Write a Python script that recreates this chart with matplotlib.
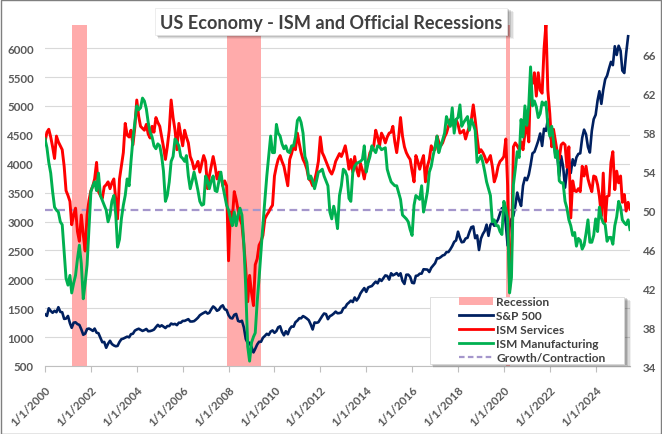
import matplotlib
matplotlib.use('Agg')
import matplotlib.pyplot as plt
from matplotlib.patches import Rectangle, Patch
from matplotlib.lines import Line2D
import pandas as pd

# ---------------- data (monthly, from Jan 2000) ----------------
spx_close = [
    1394.5, 1366.4, 1498.6, 1452.4, 1420.6, 1454.6, 1430.8, 1517.7, 1436.5, 1429.4, 1315.0, 1320.3,
    1366.0, 1239.9, 1160.3, 1249.5, 1255.8, 1224.4, 1211.2, 1133.6, 1040.9, 1059.8, 1139.5, 1148.1,
    1130.2, 1106.7, 1147.4, 1076.9, 1067.1, 989.8, 911.6, 916.1, 815.3, 885.8, 936.3, 879.8,
    855.7, 841.2, 848.2, 916.9, 963.6, 974.5, 990.3, 1008.0, 996.0, 1050.7, 1058.2, 1111.9,
    1131.1, 1144.9, 1126.2, 1107.3, 1120.7, 1140.8, 1101.7, 1104.2, 1114.6, 1130.2, 1173.8, 1211.9,
    1181.3, 1203.6, 1180.6, 1156.9, 1191.5, 1191.3, 1234.2, 1220.3, 1228.8, 1207.0, 1249.5, 1248.3,
    1280.1, 1280.7, 1294.8, 1310.6, 1270.1, 1270.2, 1276.7, 1303.8, 1335.9, 1377.9, 1400.6, 1418.3,
    1438.2, 1406.8, 1420.9, 1482.4, 1530.6, 1503.4, 1455.3, 1474.0, 1526.8, 1549.4, 1481.1, 1468.4,
    1378.6, 1330.6, 1322.7, 1385.6, 1400.4, 1280.0, 1267.4, 1282.8, 1166.4, 968.8, 896.2, 903.3,
    825.9, 735.1, 797.9, 872.8, 919.1, 919.3, 987.5, 1020.6, 1057.1, 1036.2, 1095.6, 1115.1,
    1073.9, 1104.5, 1169.4, 1186.7, 1089.4, 1030.7, 1101.6, 1049.3, 1141.2, 1183.3, 1180.6, 1257.6,
    1286.1, 1327.2, 1325.8, 1363.6, 1345.2, 1320.6, 1292.3, 1218.9, 1131.4, 1253.3, 1247.0, 1257.6,
    1312.4, 1365.7, 1408.5, 1397.9, 1310.3, 1362.2, 1379.3, 1406.6, 1440.7, 1412.2, 1416.2, 1426.2,
    1498.1, 1514.7, 1569.2, 1597.6, 1630.7, 1606.3, 1685.7, 1633.0, 1681.6, 1756.5, 1805.8, 1848.4,
    1782.6, 1859.5, 1872.3, 1884.0, 1923.6, 1960.2, 1930.7, 2003.4, 1972.3, 2018.1, 2067.6, 2058.9,
    1995.0, 2104.5, 2067.9, 2085.5, 2107.4, 2063.1, 2103.8, 1972.2, 1920.0, 2079.4, 2080.4, 2043.9,
    1940.2, 1932.2, 2059.7, 2065.3, 2097.0, 2098.9, 2173.6, 2171.0, 2168.3, 2126.2, 2198.8, 2238.8,
    2278.9, 2363.6, 2362.7, 2384.2, 2411.8, 2423.4, 2470.3, 2471.7, 2519.4, 2575.3, 2647.6, 2673.6,
    2823.8, 2713.8, 2640.9, 2648.1, 2705.3, 2718.4, 2816.3, 2901.5, 2914.0, 2711.7, 2760.2, 2506.9,
    2704.1, 2784.5, 2834.4, 2945.8, 2752.1, 2941.8, 2980.4, 2926.5, 2976.7, 3037.6, 3141.0, 3230.8,
    3225.5, 2954.2, 2584.6, 2912.4, 3044.3, 3100.3, 3271.1, 3500.3, 3363.0, 3270.0, 3621.6, 3756.1,
    3714.2, 3811.2, 3972.9, 4181.2, 4204.1, 4297.5, 4395.3, 4522.7, 4307.5, 4605.4, 4567.0, 4766.2,
    4515.6, 4373.9, 4530.4, 4131.9, 4132.2, 3785.4, 4130.3, 3955.0, 3585.6, 3872.0, 4080.1, 3839.5,
    4076.6, 3970.2, 4109.3, 4169.5, 4179.8, 4450.4, 4589.0, 4507.7, 4288.1, 4193.8, 4567.8, 4769.8,
    4845.7, 5096.3, 5254.4, 5035.7, 5277.5, 5460.5, 5522.3, 5648.4, 5762.5, 5705.5, 6032.4, 5881.6,
    6040.5, 5954.5, 5611.9, 5569.1, 5911.7, 6205.0,
]

ism_services = [
    57.0, 58.0, 58.3, 57.5, 56.5, 55.3, 57.6, 57.0, 56.6, 56.2, 54.5, 52.0,
    51.5, 50.9, 48.5, 49.5, 50.2, 47.8, 46.8, 49.5, 47.5, 45.8, 49.5, 51.0,
    52.0, 52.5, 53.2, 54.9, 51.9, 51.5, 51.2, 52.4, 52.6, 52.9, 52.2, 52.8,
    53.2, 51.0, 49.1, 53.2, 54.5, 55.9, 58.9, 57.7, 57.5, 58.2, 56.7, 58.5,
    61.3, 59.6, 58.6, 58.4, 58.2, 58.8, 57.8, 57.4, 58.6, 58.0, 59.5, 59.0,
    58.6, 57.5, 56.5, 55.2, 56.5, 58.2, 61.3, 59.5, 58.2, 56.2, 58.9, 57.8,
    56.6, 58.2, 57.5, 56.9, 55.5, 55.0, 54.2, 54.5, 55.0, 53.9, 54.8, 55.6,
    55.0, 52.2, 53.5, 54.5, 55.5, 54.5, 53.2, 53.9, 53.5, 52.5, 53.0, 52.5,
    44.8, 49.8, 49.1, 51.9, 51.1, 50.0, 49.1, 48.5, 46.4, 44.0, 40.6, 43.3,
    41.5, 40.2, 44.4, 45.0, 46.4, 46.8, 47.4, 49.1, 49.5, 49.8, 50.2, 50.5,
    53.5, 54.5, 55.2, 55.6, 55.0, 54.5, 53.5, 52.5, 55.2, 55.8, 56.6, 56.2,
    57.9, 56.8, 55.9, 55.2, 54.8, 54.2, 53.2, 53.0, 52.5, 53.0, 53.9, 55.0,
    57.5, 55.9, 55.5, 55.0, 54.5, 54.0, 53.7, 54.2, 55.0, 55.4, 55.8, 55.5,
    56.0, 56.6, 55.6, 54.2, 55.2, 53.9, 55.5, 54.2, 53.5, 54.8, 54.1, 53.2,
    54.5, 55.0, 55.9, 56.2, 56.6, 58.2, 57.5, 56.6, 57.9, 57.5, 56.9, 57.5,
    57.9, 58.0, 58.6, 57.0, 55.9, 57.5, 59.5, 57.6, 56.5, 55.9, 55.5, 55.2,
    54.0, 52.9, 55.6, 55.0, 54.2, 55.0, 55.6, 52.9, 54.5, 55.2, 56.6, 56.2,
    56.2, 57.6, 57.0, 56.6, 56.9, 57.5, 57.9, 58.6, 59.3, 59.0, 58.6, 59.3,
    58.8, 57.9, 58.0, 58.2, 57.3, 58.0, 58.6, 59.3, 60.8, 59.3, 57.5, 55.9,
    56.2, 55.9, 55.5, 54.9, 55.2, 55.6, 54.5, 52.9, 53.5, 54.5, 55.0, 55.2,
    55.5, 57.3, 52.5, 41.8, 45.4, 56.5, 56.9, 56.6, 56.2, 57.0, 56.2, 57.9,
    58.7, 57.0, 63.4, 63.0, 64.1, 61.7, 64.1, 62.3, 62.0, 66.5, 69.1, 62.3,
    59.9, 56.5, 58.3, 57.1, 55.9, 55.3, 56.7, 56.9, 56.7, 54.4, 56.5, 49.2,
    53.0, 52.0, 51.9, 52.2, 51.9, 54.5, 53.5, 54.5, 53.2, 52.5, 51.9, 53.5,
    53.4, 52.6, 51.4, 49.4, 53.8, 48.8, 51.4, 51.5, 54.9, 56.0, 52.1, 54.0,
    52.8, 53.5, 50.8, 51.6, 49.9, 50.8, 50.1,
]

ism_manufacturing = [
    57.3, 56.4, 54.9, 53.8, 51.9, 50.3, 50.0, 49.8, 48.8, 48.5, 45.7, 43.0,
    42.3, 43.3, 41.5, 42.5, 43.3, 45.0, 46.4, 44.5, 40.9, 42.5, 44.4, 48.0,
    51.9, 52.5, 52.9, 52.0, 53.8, 51.5, 51.0, 50.5, 50.0, 48.8, 49.5, 50.9,
    51.5, 49.5, 46.2, 47.0, 49.1, 50.5, 51.5, 53.2, 52.5, 55.0, 57.3, 59.0,
    60.7, 60.3, 60.5, 61.5, 61.2, 60.4, 59.0, 58.0, 57.5, 56.6, 56.3, 56.8,
    56.6, 55.5, 54.0, 50.9, 51.5, 52.9, 55.0, 55.5, 57.3, 57.0, 56.6, 55.5,
    55.3, 55.0, 55.6, 53.5, 52.2, 53.0, 53.9, 53.0, 52.0, 50.9, 50.5, 50.6,
    53.5, 53.0, 52.2, 53.0, 53.5, 52.0, 51.9, 53.0, 53.9, 52.5, 51.5, 50.5,
    50.0, 49.1, 48.4, 49.8, 48.4, 49.5, 50.2, 49.5, 46.5, 42.0, 36.0, 34.5,
    36.4, 37.0, 37.4, 40.6, 43.0, 45.8, 48.5, 51.0, 53.5, 55.5, 57.6, 55.9,
    55.9, 58.8, 57.9, 57.6, 56.8, 56.3, 56.6, 56.0, 55.9, 56.6, 56.6, 57.5,
    59.2, 59.5, 59.0, 57.9, 55.5, 54.9, 53.2, 53.5, 53.0, 52.2, 53.0, 53.9,
    54.0, 54.2, 53.5, 53.0, 52.5, 49.8, 49.1, 50.4, 49.5, 48.1, 51.5, 52.5,
    54.2, 54.0, 53.5, 51.2, 50.9, 53.9, 54.5, 54.8, 54.9, 55.0, 55.2, 56.6,
    53.9, 54.9, 55.5, 56.6, 56.2, 55.9, 56.6, 56.5, 56.2, 56.3, 56.4, 54.2,
    53.5, 52.9, 52.7, 52.5, 52.5, 51.8, 51.1, 49.5, 49.3, 49.1, 48.8, 48.0,
    47.4, 50.5, 51.5, 51.3, 51.1, 52.5, 49.8, 50.8, 51.9, 53.9, 54.5, 55.6,
    56.5, 57.6, 55.9, 56.6, 57.2, 57.9, 59.6, 59.0, 58.6, 60.5, 57.9, 59.3,
    59.5, 60.8, 58.6, 59.0, 59.3, 59.6, 58.2, 59.3, 58.8, 58.2, 54.9, 55.2,
    55.6, 54.9, 54.0, 52.9, 52.2, 51.5, 48.8, 49.0, 48.4, 48.4, 47.8, 47.5,
    50.9, 50.1, 49.1, 41.5, 43.1, 52.6, 54.2, 56.0, 55.4, 59.3, 57.5, 60.7,
    58.7, 60.8, 64.7, 60.7, 61.2, 60.6, 59.5, 59.9, 61.1, 60.8, 61.1, 58.7,
    57.6, 58.6, 57.1, 55.4, 56.1, 53.0, 52.8, 52.8, 50.9, 50.2, 49.0, 48.4,
    47.4, 47.7, 46.3, 47.1, 46.9, 46.0, 46.4, 47.6, 49.0, 46.7, 46.7, 47.4,
    49.1, 47.8, 50.3, 49.2, 48.7, 48.5, 46.8, 47.2, 47.2, 46.5, 48.4, 49.3,
    50.9, 50.3, 49.0, 48.7, 48.5, 49.0, 48.0,
]

growth_contraction_level = 50
recession_starts = ['2001-03-01', '2007-12-01', '2020-02-01']
recession_ends = ['2001-11-01', '2009-06-01', '2020-04-01']
tick_years = list(range(2000, 2025, 2))
title_text = 'US Economy - ISM and Official Recessions'
legend_labels = ['Recession', 'S&P 500', 'ISM Services', 'ISM Manufacturing', 'Growth/Contraction']

# ---------------- figure ----------------
W, H = 662, 435
plt.rcParams['font.family'] = ['Lato', 'DejaVu Sans']

dates_ism = pd.date_range('2000-01-01', periods=len(ism_manufacturing), freq='MS')
dates_spx = dates_ism[:len(spx_close)]

fig = plt.figure(figsize=(W / 100, H / 100), dpi=100)
fig.patch.set_facecolor('white')

def fx(px):
    return px / W

def fy(py):
    return 1 - py / H

L, R, T, B = 45, 630, 26, 367
ax = fig.add_axes([fx(L), fy(B), fx(R) - fx(L), fy(T) - fy(B)])
ax2 = ax.twinx()

NAVY = '#002060'
RED = '#FF0000'
GREEN = '#00B050'
PINK = '#FFABAB'
LAV = '#A597CC'
TXT = '#404040'

# recession shading
for s, e in zip(recession_starts, recession_ends):
    ax.axvspan(pd.Timestamp(s), pd.Timestamp(e), color=PINK, lw=0, zorder=1)

ax.plot(dates_spx, spx_close, color=NAVY, lw=1.9, zorder=3, solid_joinstyle='round')

ax2.axhline(growth_contraction_level, color=LAV, lw=1.6, dashes=(3.5, 2.0), zorder=1)
ax2.plot(dates_ism, ism_services, color=RED, lw=2.1, zorder=2, solid_joinstyle='round')
ax2.plot(dates_ism, ism_manufacturing, color=GREEN, lw=2.1, zorder=3, solid_joinstyle='round')

ax.set_xlim(pd.Timestamp('2000-01-01'), pd.Timestamp('2025-07-01'))
ax.set_ylim(500, 6400)
ax2.set_ylim(34, 69)
ax.set_yticks(range(500, 6001, 500))
ax2.set_yticks(range(34, 67, 4))

ax.set_axisbelow(True)
ax.yaxis.grid(True, color='#D9D9D9', lw=0.8)
ax.xaxis.grid(False)

for a in (ax, ax2):
    for sp in ('top', 'left', 'right'):
        a.spines[sp].set_visible(False)
ax2.spines['bottom'].set_visible(False)
ax.spines['bottom'].set_color('#BFBFBF')
ax.spines['bottom'].set_linewidth(0.8)

ticks = [pd.Timestamp(f'{y}-01-01') for y in tick_years]
ax.set_xticks(ticks)
ax.set_xticklabels([f'1/1/{y}' for y in tick_years], rotation=45, ha='right',
                   va='top', rotation_mode='anchor', fontweight='bold')
ax.tick_params(axis='x', length=4, color='#BFBFBF', width=0.8, labelsize=8.3,
               labelcolor='#595959', pad=9)
ax.tick_params(axis='y', length=0, labelsize=8.3, labelcolor='#595959', pad=8)
ax2.tick_params(axis='y', length=0, labelsize=8.3, labelcolor='#595959', pad=9)
for lab in ax.get_yticklabels() + ax2.get_yticklabels():
    lab.set_fontweight('bold')

# ---------------- title box with shadow ----------------
tx0, tx1, ty0, ty1 = 155, 507, 9, 36
for k, al in ((4, 0.06), (3, 0.09), (2, 0.12), (1, 0.15)):
    fig.patches.append(Rectangle((fx(tx0 + 1 + k * 0.5), fy(ty1 + k)),
                                 fx(tx1 - tx0 + k), (ty1 - ty0) / H,
                                 transform=fig.transFigure, facecolor='black',
                                 edgecolor='none', alpha=al, zorder=5))
fig.patches.append(Rectangle((fx(tx0), fy(ty1)), fx(tx1 - tx0), (ty1 - ty0) / H,
                             transform=fig.transFigure, facecolor='white',
                             edgecolor='#E6E6E6', lw=0.5, zorder=6))
title = fig.text(fx((tx0 + tx1) / 2), fy((ty0 + ty1) / 2 + 0.5), title_text,
                 ha='center', va='center', fontsize=14, color=TXT, zorder=7,
                 fontweight='bold')
fig.canvas.draw()
wpx = title.get_window_extent().width
title.set_fontsize(14 * 344 / wpx)

# ---------------- legend box with shadow ----------------
lx0, lx1, ly0, ly1 = 430, 624, 298, 365
for k, al in ((4, 0.06), (3, 0.09), (2, 0.12), (1, 0.15)):
    fig.patches.append(Rectangle((fx(lx0 + 1 + k * 0.5), fy(ly1 + k)),
                                 fx(lx1 - lx0 + k), (ly1 - ly0) / H,
                                 transform=fig.transFigure, facecolor='black',
                                 edgecolor='none', alpha=al, zorder=5))
fig.patches.append(Rectangle((fx(lx0), fy(ly1)), fx(lx1 - lx0), (ly1 - ly0) / H,
                             transform=fig.transFigure, facecolor='white',
                             edgecolor='#D9D9D9', lw=0.6, zorder=6))

handles = [
    Patch(facecolor=PINK, edgecolor='none'),
    Line2D([0], [0], color=NAVY, lw=2.0),
    Line2D([0], [0], color=RED, lw=2.0),
    Line2D([0], [0], color=GREEN, lw=2.0),
    Line2D([0], [0], color=LAV, lw=1.6, dashes=(2.5, 1.5)),
]
leg = fig.legend(handles, legend_labels, loc='upper left',
                 bbox_to_anchor=(fx(459), fy(ly0 - 1)), frameon=False,
                 prop={'size': 8.6, 'weight': 'bold'},
                 handlelength=2.85, handleheight=0.6, handletextpad=0.25,
                 labelspacing=0.25, borderpad=0.0, borderaxespad=0.0)
leg.set_zorder(8)
for t in leg.get_texts():
    t.set_color(TXT)

# figure border
fig.patches.append(Rectangle((0.5 / W, 0.5 / H), 1 - 1.5 / W, 1 - 1.5 / H,
                             transform=fig.transFigure, facecolor='none',
                             edgecolor='#7F7F7F', lw=1.0, zorder=10))

fig.savefig('out.png', dpi=100, facecolor='white')
